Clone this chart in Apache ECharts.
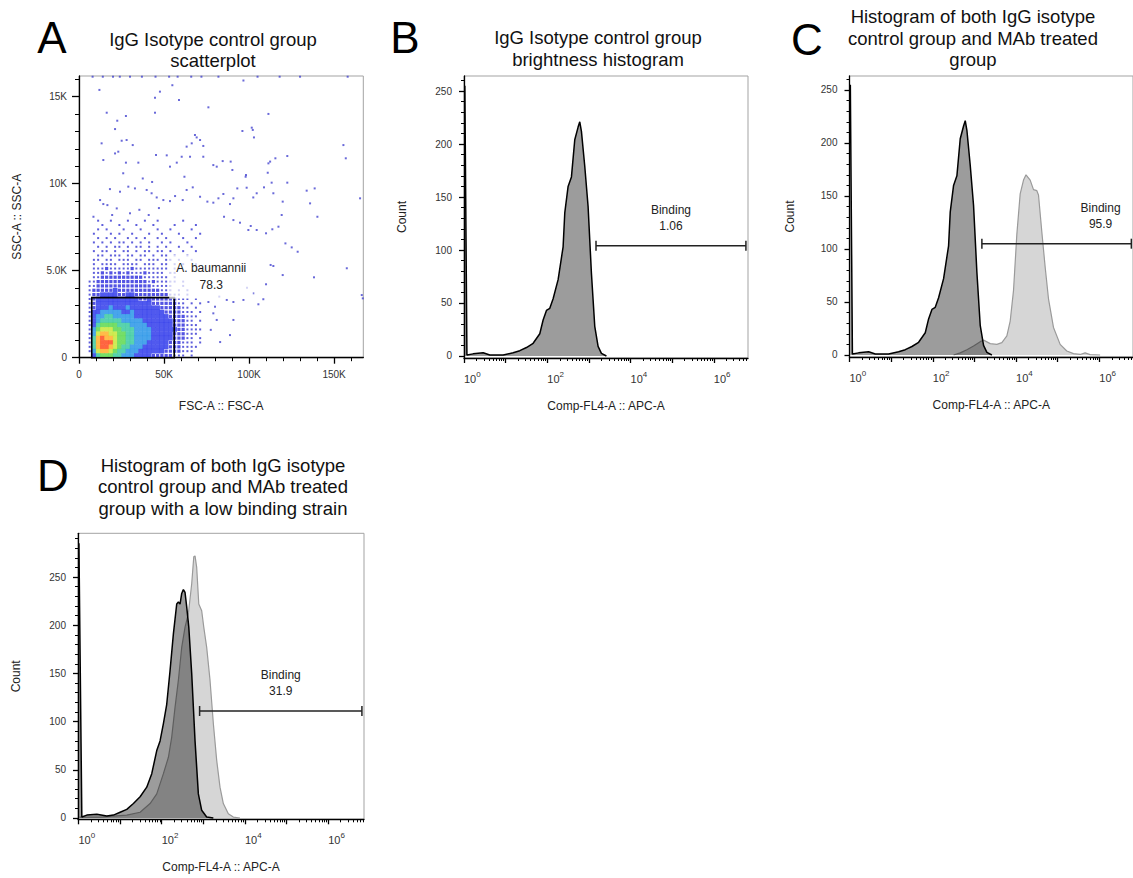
<!DOCTYPE html>
<html><head><meta charset="utf-8">
<script src="https://cdn.jsdelivr.net/npm/echarts@6/dist/echarts.min.js"></script>
<style>html,body{margin:0;padding:0;background:#fff}#chart{width:1133px;height:878px}</style>
</head><body><div id="chart"></div>
<script>
// ================= DATA =================
// Panel A: FSC-A / SSC-A in thousands (K)
const fscTicks = [0, 50, 100, 150];
const sscTicks = [0, 5, 10, 15];
// density grid: 2.5K FSC x 0.25K SSC bins,
// first string = highest SSC bin (7.75K-8K), last = lowest (0-0.25K); digit = density level 0..9
const densityRows = [
  "000010010001000100100000100000",
  "000001000100010001000010000100",
  "000010100010001000100100001000",
  "000100010100100010010001000010",
  "000010101001010100101000100100",
  "000101010110101010010100010000",
  "000010101101011010101001001000",
  "000101101011010110110100100100",
  "000011011101101101011010010000",
  "000110110111011011101101001000",
  "000101111011110111011010100100",
  "000111211111211111111011000010",
  "000112121212111211110110000000",
  "000112222222222111111010000000",
  "001122222222222212111110100000",
  "001122222222222221111100100000",
  "001222223222222222211101010000",
  "001223333223322222222111010000",
  "001233333333332232222221110100",
  "001233333333333332222221101010",
  "001233343334333333322222110100",
  "001334444433433333332222111010",
  "001344554444433333333222211100",
  "001345555544444333333322211010",
  "001356666555444433333322211100",
  "001467776655544443333332211110",
  "001478877665544443333322211100",
  "001589887665544443333322211010",
  "001589997665544433333222111010",
  "001589987655444333333222111100",
  "001478876554443333332222111000",
  "000356665544433332222211101000"
];
// sparse events outside the density grid [FSC K, SSC K]
const outlierPoints = [
  [12.0,15.39],[16.3,14.08],[22.5,13.62],[27.6,13.89],[47.6,15.29],[44.7,14.94],[54.9,15.66],[44.7,14.08],
  [58.8,14.81],[76.1,14.39],[96.7,15.93],[111.4,14.01],[101.6,13.22],[102.2,13.09],[102.9,12.66],[96.1,13.03],
  [68.2,12.80],[69.2,12.66],[71.2,12.51],[63.3,12.13],[66.3,12.32],[73.1,12.17],[21.2,13.14],[25.1,12.47],
  [28.0,12.51],[31.6,12.22],[13.3,12.32],[14.3,11.36],[21.2,11.74],[23.1,11.84],[27.6,11.21],[34.9,11.21],
  [45.3,11.65],[51.6,11.63],[53.5,10.98],[57.5,11.21],[60.4,11.55],[65.3,11.55],[73.1,11.55],[79.0,11.07],
  [84.5,11.30],[89.2,11.27],[81.0,10.98],[90.2,10.79],[98.0,10.40],[98.2,10.50],[111.4,11.17],[112.4,11.27],
  [115.5,11.46],[111.0,10.63],[122.5,11.59],[155.5,12.22],[156.9,11.46],[165.3,9.16],[133.9,9.60],[138.6,9.73],
  [140.2,8.10],[135.9,8.87],[119.8,8.97],[122.5,10.06],[113.3,10.06],[114.3,9.45],[108.8,9.79],[104.5,9.45],
  [102.5,9.21],[98.6,9.77],[93.1,9.73],[90.8,9.16],[88.8,8.83],[84.9,9.41],[82.0,9.16],[79.0,8.91],
  [75.5,8.97],[71.2,9.25],[66.9,9.79],[63.3,9.64],[61.0,9.06],[56.5,9.29],[53.5,9.00],[49.6,9.06],
  [45.7,9.21],[42.7,9.45],[39.8,9.64],[32.9,9.73],[29.0,9.83],[24.1,9.54],[18.2,9.69],[12.4,9.06],
  [14.3,8.83],[16.7,8.77],[22.2,8.58],[119.2,8.20],[117.3,7.53],[113.7,7.38],[110.0,7.15],[104.5,7.34],
  [101.0,7.57],[99.6,7.34],[94.7,7.76],[90.8,7.91],[85.3,8.10],[121.4,6.57],[125.1,6.34],[128.6,6.09],
  [112.7,5.33],[114.3,5.27],[119.8,4.75],[110.0,4.22],[108.4,3.36],[105.5,3.07],[102.5,3.70],[98.8,4.02],
  [96.7,3.32],[90.8,3.20],[86.9,3.32],[82.5,3.51],[80.0,2.93],[76.1,3.20],[88.8,1.30],[157.5,5.14],
  [138.2,4.62],[166.3,3.60],[166.9,3.41],[81.0,2.17],[79.0,2.55],[90.8,2.17],[77.5,1.6],[83.0,0.9],
  [30.0,8.3],[35.5,8.5],[41.0,8.2],[47.0,8.6],[19.5,8.2],[8.5,8.1],[26.0,10.6],[37.5,10.3],[43.0,10.1],[62.0,10.4],
  [8.0,16.15],[14.0,16.15],[20.0,16.15],[24.0,16.15],[30.0,16.15],[37.0,16.15],[45.0,16.15],[53.0,16.15],
  [58.0,16.15],[66.0,16.15],[72.0,16.15],[82.0,16.15],[105.0,16.15],[118.0,16.15],[130.0,16.15],[158.0,16.15]
];
const gateA = { fsc: [7.5, 56.0], ssc: [0, 3.45], name: 'A. baumannii', pct: '78.3' };

// Histograms: x = log10(Comp-FL4-A :: APC-A), y = count
const decadeLabels = [0, 2, 4, 6];
const countTicks = [0, 50, 100, 150, 200, 250];
const controlExp   = [0.02,0.07,0.22,0.46,0.62,0.94,1.18,1.34,1.5,1.66,1.82,1.9,1.98,2.06,2.14,2.26,2.38,2.42,2.5,2.58,2.66,2.74,2.78,2.82,2.9,2.98,3.06,3.14,3.22,3.3,3.42];
const controlCount = [255,1,2,3,1,1,3,5,8,12,21,34,43,45,54,72,103,135,160,169,204,216,221,212,179,141,78,28,9,2.5,0];
const treatedCExp   = [2.5,2.66,2.82,2.98,3.14,3.22,3.38,3.54,3.66,3.78,3.86,3.94,4.02,4.10,4.18,4.24,4.34,4.42,4.50,4.54,4.62,4.70,4.78,4.90,5.06,5.22,5.38,5.54,5.66,5.78,6.02];
const treatedCCount = [0,2,5,8.5,12.6,14,10.7,10,11.6,18,32,61,114,152,165,170,165,156,155,151,116,83,53,26,10,3.8,1.3,0.5,2,0.3,0];
const lowCtrlExp   = [0.01,0.08,0.2,0.44,0.68,0.84,1.0,1.16,1.32,1.48,1.64,1.76,1.88,1.96,2.04,2.12,2.2,2.28,2.36,2.4,2.44,2.48,2.52,2.56,2.6,2.65,2.72,2.8,2.88,2.96,3.08,3.24];
const lowCtrlCount = [285,1,3,4,2,3,6,9,15,22,32,46,70,80,98,118,153,191,222,224,222,233,237,234,219,198,150,80,25,8,1,0];
const lowTrtExp   = [0.02,0.52,0.84,1.16,1.48,1.72,1.88,2.04,2.16,2.24,2.32,2.40,2.48,2.56,2.64,2.72,2.77,2.80,2.84,2.89,2.96,3.01,3.08,3.16,3.24,3.32,3.40,3.48,3.60,3.72,3.88];
const lowTrtCount = [1,1,2,3,6,15,25,46,63,84,115,143,177,198,212,243,271,272,260,222,215,198,177,143,98,60,32,15,4.5,1,0];
const gateB = { from: 3.17, to: 6.77, level: 104, name: 'Binding', pct: '1.06' };
const gateC = { from: 3.18, to: 6.77, level: 105, name: 'Binding', pct: '95.9' };
const gateD = { from: 2.91, to: 6.81, level: 111, name: 'Binding', pct: '31.9' };

const panelTitles = [
  'IgG Isotype control group\nscatterplot',
  'IgG Isotype control group\nbrightness histogram',
  'Histogram of both IgG isotype\ncontrol group and MAb treated\ngroup',
  'Histogram of both IgG isotype\ncontrol group and MAb treated\ngroup with a low binding strain'
];
const panelLetters = ['A', 'B', 'C', 'D'];

// ================= CHART =================
const FONT = "'Liberation Sans', Arial, Helvetica, sans-serif";
const chart = echarts.init(document.getElementById('chart'), null, { renderer: 'svg' });
const zip = (a, b) => a.map((v, i) => [v, b[i]]);

const grids = [
  { left: 79,    top: 76,    width: 284.3, height: 281.7 },
  { left: 464,   top: 76,    width: 284,   height: 282 },
  { left: 849.5, top: 76,    width: 283.5, height: 281 },
  { left: 78,    top: 533.3, width: 286,   height: 286 }
].map(g => Object.assign({ show: true, borderColor: '#a3a3a3', borderWidth: 1, containLabel: false }, g));

const axisLine = { show: true, onZero: false, lineStyle: { color: '#000', width: 1.3 } };
function minorList(max, step, majorStep, start) {
  const out = [];
  for (let v = start; v <= max + 1e-9; v += step) if (Math.abs(v / majorStep - Math.round(v / majorStep)) > 1e-6) out.push(+v.toFixed(4));
  return out;
}
function logMinor(max) {
  const out = [];
  for (let n = 0; n < 7; n++) for (let k = 2; k <= 9; k++) { const v = n + Math.log10(k); if (v <= max) out.push(v); }
  return out;
}
const xAxes = [], yAxes = [];
// Panel A axes
xAxes.push({ gridIndex: 0, type: 'value', min: 0, max: 167.2, position: 'bottom', axisLine,
  axisTick: { show: true, customValues: fscTicks, length: 6, lineStyle: { color: '#000', width: 1.3 } },
  axisLabel: { customValues: fscTicks, formatter: v => v === 0 ? '0' : v + 'K', fontSize: 10, color: '#333', fontFamily: FONT, margin: 12 },
  splitLine: { show: false }, name: 'FSC-A :: FSC-A', nameLocation: 'middle', nameGap: 42,
  nameTextStyle: { fontSize: 12, color: '#222', fontFamily: FONT } });
xAxes.push({ gridIndex: 0, type: 'value', min: 0, max: 167.2, position: 'bottom', axisLine: { show: false, onZero: false },
  axisTick: { show: true, customValues: minorList(167.2, 10, 50, 10), length: 3.5, lineStyle: { color: '#000', width: 1 } },
  axisLabel: { show: false }, splitLine: { show: false } });
yAxes.push({ gridIndex: 0, type: 'value', min: 0, max: 16.19, position: 'left', axisLine,
  axisTick: { show: true, customValues: sscTicks, length: 7, lineStyle: { color: '#000', width: 1.3 } },
  axisLabel: { customValues: sscTicks, formatter: v => v === 0 ? '0' : (v < 10 ? v.toFixed(1) + 'K' : v + 'K'), fontSize: 10, color: '#333', fontFamily: FONT, margin: 12 },
  splitLine: { show: false }, name: 'SSC-A :: SSC-A', nameLocation: 'middle', nameGap: 56,
  nameTextStyle: { fontSize: 12, color: '#222', fontFamily: FONT } });
yAxes.push({ gridIndex: 0, type: 'value', min: 0, max: 16.19, position: 'left', axisLine: { show: false, onZero: false },
  axisTick: { show: true, customValues: minorList(16.19, 1, 5, 1), length: 4, lineStyle: { color: '#000', width: 1 } },
  axisLabel: { show: false }, splitLine: { show: false } });

// Histogram axes
function histAxes(g, xmin, xmax, ymin, ymax, yGap) {
  xAxes.push({ gridIndex: g, type: 'value', min: xmin, max: xmax, position: 'bottom', axisLine,
    axisTick: { show: true, customValues: [0, 1, 2, 3, 4, 5, 6].filter(v => v >= xmin && v <= xmax), length: 5, lineStyle: { color: '#000', width: 1.3 } },
    axisLabel: { customValues: decadeLabels, formatter: v => '{b|10}{s|' + v + '}', align: 'left', margin: 12,
      fontSize: 11, color: '#333', fontFamily: FONT,
      rich: { b: { fontSize: 11, color: '#333', fontFamily: FONT }, s: { fontSize: 8, color: '#333', fontFamily: FONT, padding: [0, 0, 9, 0] } } },
    splitLine: { show: false }, name: 'Comp-FL4-A :: APC-A', nameLocation: 'middle', nameGap: 42,
    nameTextStyle: { fontSize: 12, color: '#222', fontFamily: FONT } });
  xAxes.push({ gridIndex: g, type: 'value', min: xmin, max: xmax, position: 'bottom', axisLine: { show: false, onZero: false },
    axisTick: { show: true, customValues: logMinor(xmax), length: 3, lineStyle: { color: '#000', width: 1 } },
    axisLabel: { show: false }, splitLine: { show: false } });
  yAxes.push({ gridIndex: g, type: 'value', min: ymin, max: ymax, position: 'left', axisLine,
    axisTick: { show: true, customValues: countTicks, length: 5, lineStyle: { color: '#000', width: 1.3 } },
    axisLabel: { customValues: countTicks, fontSize: 10, color: '#333', fontFamily: FONT, margin: 12 },
    splitLine: { show: false }, name: 'Count', nameLocation: 'middle', nameGap: yGap,
    nameTextStyle: { fontSize: 12, color: '#222', fontFamily: FONT } });
  yAxes.push({ gridIndex: g, type: 'value', min: ymin, max: ymax, position: 'left', axisLine: { show: false, onZero: false },
    axisTick: { show: true, customValues: minorList(ymax, 10, 50, 10), length: 3, lineStyle: { color: '#000', width: 1 } },
    axisLabel: { show: false }, splitLine: { show: false } });
}
histAxes(1, 0, 6.82, -1.9, 264.2, 56);
histAxes(2, 0, 6.81, -1.9, 263.2, 54);
histAxes(3, -0.012, 6.86, -1.35, 295.4, 56);

// ---- Panel A series ----
const cellW = 2.5, cellH = 0.25;
const cells = { dot1: [], dot2: [], fill: [] };
densityRows.forEach((row, i) => {
  const r = densityRows.length - 1 - i;
  for (let c = 0; c < row.length; c++) {
    const L = +row[c];
    if (!L) continue;
    const p = [(c + 0.5) * cellW, (r + 0.5) * cellH, L];
    if (L === 1) cells.dot1.push(p); else if (L === 2) cells.dot2.push(p); else cells.fill.push(p);
  }
});
const levelColor = { 3: '#2430ea', 4: '#1c8fe6', 5: '#2ec79a', 6: '#52d642', 7: '#c2e62a', 8: '#ffaa1c', 9: '#ff3f10' };
const series = [
  { type: 'scatter', xAxisIndex: 0, yAxisIndex: 0, data: cells.dot1, symbol: 'rect', symbolSize: 2, silent: true,
    itemStyle: { color: '#3535d2' }, z: 2 },
  { type: 'scatter', xAxisIndex: 0, yAxisIndex: 0, data: cells.dot2, symbol: 'rect', symbolSize: 3.2, silent: true,
    itemStyle: { color: '#2828dc' }, z: 2 },
  { type: 'scatter', xAxisIndex: 0, yAxisIndex: 0, data: cells.fill, symbol: 'rect', symbolSize: [4.6, 4.6], silent: true,
    itemStyle: { color: p => levelColor[p.value[2]] }, z: 3 },
  { type: 'scatter', xAxisIndex: 0, yAxisIndex: 0, data: outlierPoints, symbol: 'rect', symbolSize: 2, silent: true,
    itemStyle: { color: '#4444d0' }, z: 3 },
  { type: 'custom', xAxisIndex: 0, yAxisIndex: 0, silent: true, z: 10,
    data: [[gateA.fsc[0], gateA.fsc[1], gateA.ssc[0], gateA.ssc[1]]], encode: { x: [0, 1], y: [2, 3] },
    renderItem: (params, api) => {
      const tl = api.coord([api.value(0), api.value(3)]);
      const br = api.coord([api.value(1), api.value(2)]);
      return { type: 'group', children: [
        { type: 'rect', shape: { x: tl[0], y: tl[1], width: br[0] - tl[0], height: br[1] - tl[1] },
          style: { fill: 'none', stroke: '#000', lineWidth: 1.6 } },
        { type: 'text', x: br[0] + 37, y: tl[1] - 21,
          style: { text: gateA.name + '\n' + gateA.pct, fill: '#222', font: '12px ' + FONT, lineHeight: 17,
            align: 'center', verticalAlign: 'middle', textAlign: 'center', textVerticalAlign: 'middle',
            backgroundColor: 'rgba(255,255,255,0.72)', padding: [5, 7] } }
      ] };
    } }
];

// ---- Histogram series ----
function hist(g, exp, cnt, kind) {
  const ctrl = kind === 'control';
  return { type: 'line', xAxisIndex: 2 * g, yAxisIndex: 2 * g, data: zip(exp, cnt), symbol: 'none', showSymbol: false,
    silent: true, smooth: false, z: ctrl ? 4 : 3,
    lineStyle: { color: ctrl ? '#000' : '#9a9a9a', width: ctrl ? 1.5 : 1.2 },
    areaStyle: { color: ctrl ? 'rgba(0,0,0,0.39)' : '#d6d6d6', opacity: 1 } };
}
function gate(g, gt, dx) {
  return { type: 'custom', xAxisIndex: 2 * g, yAxisIndex: 2 * g, silent: true, z: 10,
    data: [[gt.from, gt.to, gt.level]], encode: { x: [0, 1], y: 2 },
    renderItem: (params, api) => {
      const p1 = api.coord([api.value(0), api.value(2)]);
      const p2 = api.coord([api.value(1), api.value(2)]);
      const st = { stroke: '#222', lineWidth: 1.5 };
      return { type: 'group', children: [
        { type: 'line', shape: { x1: p1[0], y1: p1[1], x2: p2[0], y2: p2[1] }, style: st },
        { type: 'line', shape: { x1: p1[0], y1: p1[1] - 5, x2: p1[0], y2: p1[1] + 5 }, style: st },
        { type: 'line', shape: { x1: p2[0], y1: p2[1] - 5, x2: p2[0], y2: p2[1] + 5 }, style: st },
        { type: 'text', x: (p1[0] + p2[0]) / 2 + dx, y: p1[1] - 28,
          style: { text: gt.name + '\n' + gt.pct, fill: '#222', font: '12px ' + FONT, lineHeight: 16,
            align: 'center', verticalAlign: 'middle', textAlign: 'center', textVerticalAlign: 'middle' } }
      ] };
    } };
}
series.push(hist(1, controlExp, controlCount, 'control'), gate(1, gateB, 0));
series.push(hist(2, treatedCExp, treatedCCount, 'treated'), hist(2, controlExp, controlCount, 'control'), gate(2, gateC, 44));
series.push(hist(3, lowTrtExp, lowTrtCount, 'treated'), hist(3, lowCtrlExp, lowCtrlCount, 'control'), gate(3, gateD, 0));

// ---- titles / panel letters ----
const titlePos = [[213, 50, 21.5], [598, 48.5, 21.5], [973, 38.3, 21.7], [223, 486.7, 21.7]];
const letterPos = [[52, 37.5], [405, 37], [807, 39], [53, 475]];
const graphic = [];
panelTitles.forEach((t, i) => graphic.push({ type: 'text', x: titlePos[i][0], y: titlePos[i][1], silent: true,
  style: { text: t, font: '18.5px ' + FONT, fill: '#111', lineHeight: titlePos[i][2],
    align: 'center', verticalAlign: 'middle', textAlign: 'center', textVerticalAlign: 'middle' } }));
panelLetters.forEach((t, i) => graphic.push({ type: 'text', x: letterPos[i][0], y: letterPos[i][1], silent: true,
  style: { text: t, font: '44px ' + FONT, fill: '#000',
    align: 'center', verticalAlign: 'middle', textAlign: 'center', textVerticalAlign: 'middle' } }));

chart.setOption({
  animation: false,
  backgroundColor: '#fff',
  textStyle: { fontFamily: FONT },
  grid: grids,
  xAxis: xAxes,
  yAxis: yAxes,
  series,
  graphic
});
</script></body></html>
